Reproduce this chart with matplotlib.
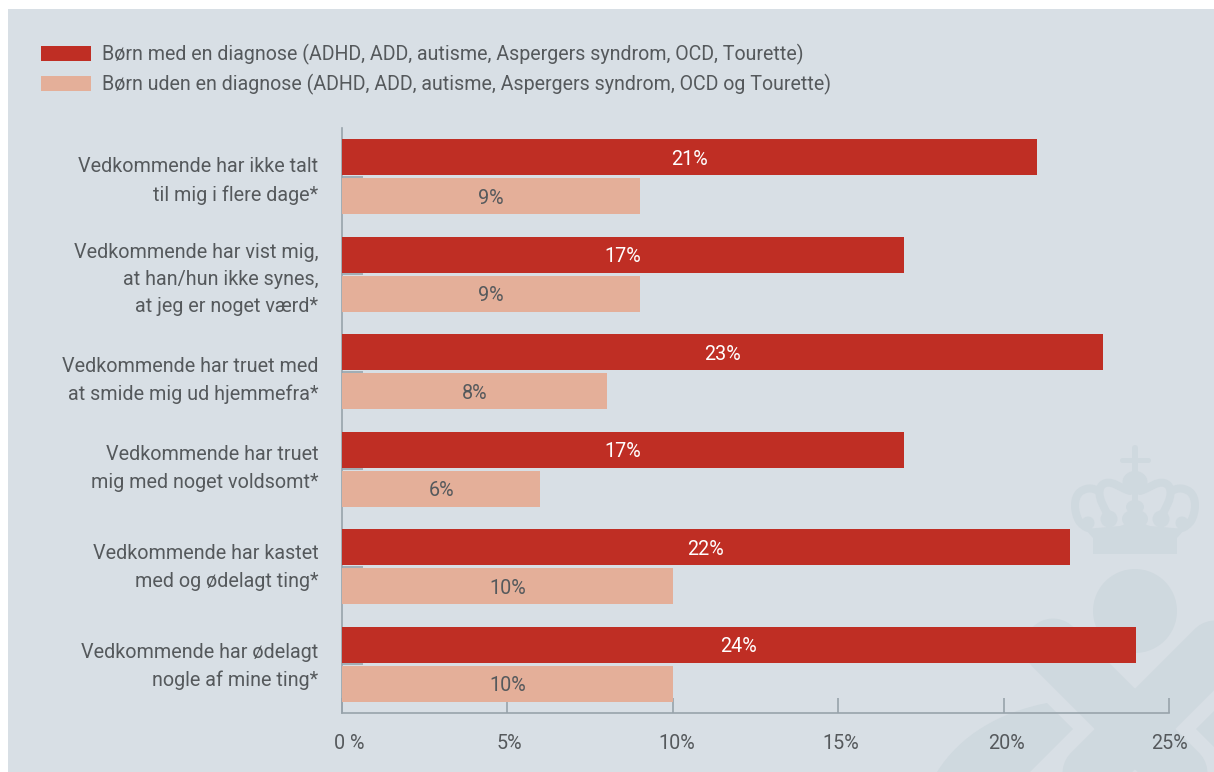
import matplotlib
matplotlib.use("Agg")
import matplotlib.pyplot as plt
from matplotlib.patches import Polygon, Circle, Rectangle, Ellipse, Patch, PathPatch
from matplotlib.path import Path
from matplotlib.transforms import ScaledTranslation

categories = [
    "Vedkommende har ikke talt\ntil mig i flere dage*",
    "Vedkommende har vist mig,\nat han/hun ikke synes,\nat jeg er noget værd*",
    "Vedkommende har truet med\nat smide mig ud hjemmefra*",
    "Vedkommende har truet\nmig med noget voldsomt*",
    "Vedkommende har kastet\nmed og ødelagt ting*",
    "Vedkommende har ødelagt\nnogle af mine ting*",
]
with_diagnosis = [21, 17, 23, 17, 22, 24]
without_diagnosis = [9, 9, 8, 6, 10, 10]
xticks = [0, 5, 10, 15, 20, 25]
xticklabels = ["0 %", "5%", "10%", "15%", "20%", "25%"]
label_with = "Børn med en diagnose (ADHD, ADD, autisme, Aspergers syndrom, OCD, Tourette)"
label_without = "Børn uden en diagnose (ADHD, ADD, autisme, Aspergers syndrom, OCD og Tourette)"

RED = "#bf2e24"
PEACH = "#e4af99"
BG = "#d8dfe5"
WM = "#cfd9df"
TXT = "#55595c"
AX = "#98a3ab"
W, H = 1214, 772
FS = 14.25
LEG_FS = 14.15
plt.rcParams["font.family"] = ["Roboto", "DejaVu Sans"]

fig = plt.figure(figsize=(W / 100, H / 100), dpi=100, facecolor="white")

# backdrop in pixel coordinates
bg = fig.add_axes([0, 0, 1, 1], zorder=0)
bg.set_xlim(0, W); bg.set_ylim(H, 0); bg.axis("off")
bg.add_patch(Rectangle((8, 9), W - 8, H - 9, fc=BG, ec="none"))
clip = Rectangle((8, 9), W - 8, H - 9, transform=bg.transData)
def wm(p):
    bg.add_patch(p); p.set_clip_path(clip)
def stroke(verts, codes, lw_px):
    wm(PathPatch(Path(verts, codes), fc="none", ec=WM, lw=lw_px * 0.72, capstyle="round", joinstyle="round"))
M, L, C = Path.MOVETO, Path.LINETO, Path.CURVE4

# emblem watermark: large X, ball, neighbouring shapes
stroke([(1053, 647), (1135 + 70, 729 + 70)], [M, L], 57)
stroke([(1217, 647), (1135 - 70, 729 + 70)], [M, L], 57)
wm(Circle((1135, 611), 42, fc=WM, ec="none"))
wm(PathPatch(Path([(937, 772), (960, 735), (1000, 712), (1047, 703), (1073, 729), (1030, 772), (937, 772)],
                  [M, C, C, C, L, L, L]), fc=WM, ec="none"))
wm(Polygon([(1196, 729), (1214, 711), (1214, 747)], fc=WM, ec="none"))
# crown
wm(Polygon([(1093, 554), (1177, 554), (1177, 538), (1185, 529), (1150, 526), (1135, 521), (1120, 526),
            (1085, 529), (1093, 538)], fc=WM, ec="none"))
stroke([(1134.5, 448), (1134.5, 472)], [M, L], 6)
stroke([(1122, 460), (1148, 460)], [M, L], 5)
wm(Ellipse((1135, 482), 25, 22, fc=WM, ec="none"))
wm(Ellipse((1135, 507), 18, 14, fc=WM, ec="none"))
wm(Ellipse((1135, 519), 26, 19, fc=WM, ec="none"))
stroke([(1135, 495), (1135, 512)], [M, L], 6)
for sx in (-1, 1):
    X = lambda d: 1135 + sx * d
    wm(Circle((X(26), 519), 8.5, fc=WM, ec="none"))
    wm(Circle((X(47), 523), 6.5, fc=WM, ec="none"))
    stroke([(X(5), 491), (X(15), 488), (X(22), 481), (X(29), 483),
            (X(38), 485), (X(36), 497), (X(33), 503), (X(30), 510), (X(27), 514), (X(26), 519)],
           [M, C, C, C, C, C, C, C, C, C], 8)
    stroke([(X(37), 491), (X(43), 487), (X(50), 488), (X(55), 492),
            (X(62), 498), (X(61), 512), (X(56), 521), (X(53), 525), (X(50), 527), (X(47), 528)],
           [M, C, C, C, C, C, C, C, C, C], 8)

# chart axes: 0..25 spans 342..1169 px; top at 128, baseline at 713
ax = fig.add_axes([342 / W, (H - 713) / H, (1169 - 342) / W, (713 - 128) / H], zorder=1)
ax.patch.set_visible(False)
unit = 97.6
bar_h = 36 / unit
off = 19.5 / unit
n = len(categories)
pos = list(range(n))
ax.barh([p - off for p in pos], with_diagnosis, height=bar_h, color=RED, zorder=3)
ax.barh([p + off for p in pos], without_diagnosis, height=bar_h, color=PEACH, zorder=3)
ax.set_xlim(0, 25)
ax.set_ylim(n - 0.5, -0.5)

for s in ("top", "right"):
    ax.spines[s].set_visible(False)
for s in ("left", "bottom"):
    ax.spines[s].set_color(AX); ax.spines[s].set_linewidth(1.2)

ax.set_yticks(pos, categories, fontsize=FS, color=TXT, linespacing=1.56, ha="right")
ax.set_xticks(xticks, xticklabels, fontsize=FS, color=TXT)
ax.tick_params(axis="y", direction="in", length=15, width=1.2, color=AX, pad=17)
ax.tick_params(axis="x", direction="in", length=11, width=1.2, color=AX, pad=15)
label_shift = [7, 2, 4, 3, 3, 0]
for lab, dx in zip(ax.get_xticklabels(), label_shift):
    lab.set_transform(lab.get_transform() + ScaledTranslation(dx / 100, 0, fig.dpi_scale_trans))
cat_shift = [2, 1, -2.5, 7, 5.5, 4]
for lab, dy in zip(ax.get_yticklabels(), cat_shift):
    lab.set_transform(lab.get_transform() + ScaledTranslation(0, dy / 100, fig.dpi_scale_trans))

for p, v in zip(pos, with_diagnosis):
    ax.text(v / 2, p - off + 2 / unit, f"{v}%", ha="center", va="center", color="white", fontsize=FS, zorder=4)
for p, v in zip(pos, without_diagnosis):
    ax.text(v / 2, p + off + 2 / unit, f"{v}%", ha="center", va="center", color=TXT, fontsize=FS, zorder=4)

handles = [Patch(fc=RED, ec="none", label=label_with), Patch(fc=PEACH, ec="none", label=label_without)]
px = LEG_FS * 100 / 72
fig.legend(handles=handles, loc="upper left", bbox_to_anchor=(41 / W, 1 - 44 / H), frameon=False,
           fontsize=LEG_FS, labelcolor=TXT, borderpad=0, borderaxespad=0, handlelength=50 / px,
           handleheight=15 / px, handletextpad=11 / px, labelspacing=0.46)
fig.savefig("out.png", dpi=100, facecolor="white")
